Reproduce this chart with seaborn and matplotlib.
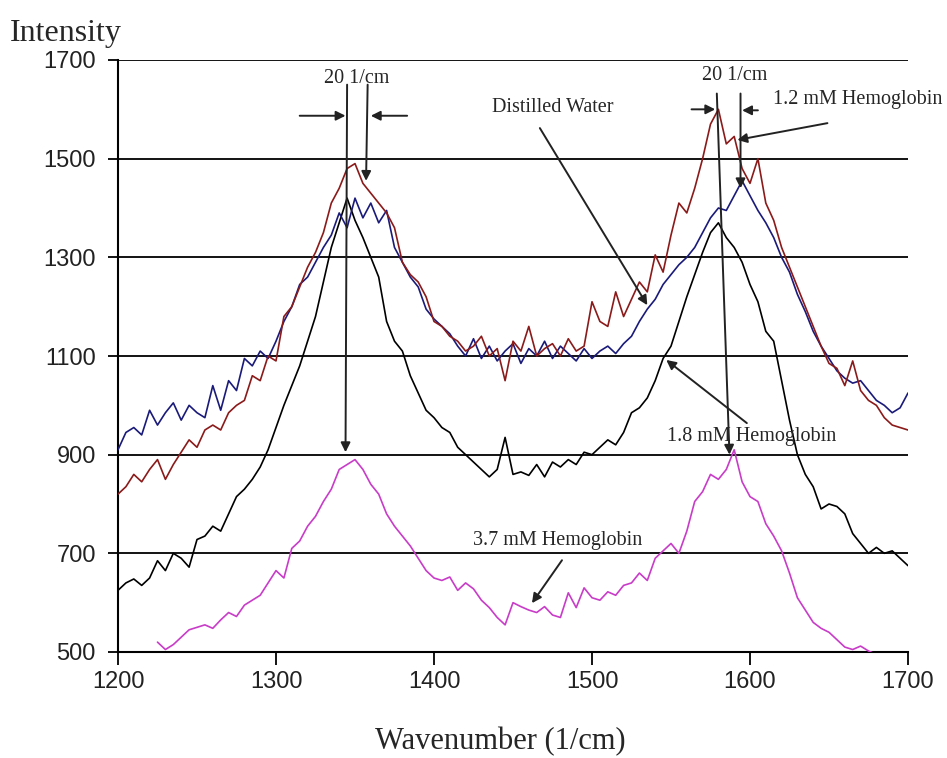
import numpy as np
import pandas as pd
import matplotlib
matplotlib.use("Agg")
import matplotlib.pyplot as plt
import seaborn as sns

# ---------------- data ----------------
wavenumber = list(range(1200, 1701, 5))

distilled_water = [
    910, 945, 955, 940, 990, 960, 985, 1005, 970, 1000,
    985, 975, 1040, 990, 1050, 1030, 1095, 1080, 1110, 1095,
    1130, 1170, 1200, 1245, 1260, 1290, 1320, 1345, 1390, 1360,
    1420, 1380, 1410, 1370, 1395, 1320, 1290, 1260, 1240, 1195,
    1175, 1160, 1145, 1120, 1100, 1135, 1095, 1120, 1090, 1110,
    1125, 1085, 1115, 1100, 1130, 1095, 1120, 1105, 1090, 1115,
    1095, 1110, 1120, 1105, 1125, 1140, 1170, 1195, 1215, 1245,
    1265, 1285, 1300, 1320, 1350, 1380, 1400, 1395, 1425, 1455,
    1425, 1395, 1370, 1340, 1300, 1270, 1225, 1190, 1150, 1120,
    1095, 1070, 1055, 1045, 1050, 1030, 1010, 1000, 985, 995,
    1025]

hb_1_2 = [
    820, 835, 860, 845, 870, 890, 850, 880, 905, 930,
    915, 950, 960, 950, 985, 1000, 1010, 1060, 1050, 1100,
    1090, 1180, 1200, 1240, 1280, 1310, 1350, 1410, 1440, 1480,
    1490, 1450, 1430, 1410, 1390, 1360, 1290, 1265, 1250, 1220,
    1170, 1160, 1140, 1130, 1110, 1120, 1140, 1100, 1115, 1050,
    1130, 1110, 1160, 1100, 1115, 1125, 1100, 1135, 1110, 1120,
    1210, 1170, 1160, 1230, 1180, 1215, 1250, 1230, 1305, 1270,
    1345, 1410, 1390, 1440, 1500, 1570, 1600, 1530, 1545, 1480,
    1450, 1500, 1410, 1375, 1320, 1280, 1240, 1200, 1160, 1120,
    1085, 1075, 1040, 1090, 1030, 1010, 1000, 975, 960, 955,
    950]

hb_1_8 = [
    625, 640, 648, 635, 650, 685, 665, 700, 690, 672,
    728, 735, 755, 745, 780, 815, 830, 850, 875, 910,
    955, 1000, 1040, 1080, 1130, 1180, 1250, 1320, 1370, 1420,
    1375, 1340, 1300, 1260, 1170, 1130, 1110, 1060, 1025, 990,
    975, 955, 945, 915, 900, 885, 870, 855, 870, 935,
    860, 865, 858, 880, 855, 885, 875, 890, 880, 905,
    900, 915, 930, 920, 945, 985, 995, 1015, 1050, 1095,
    1120, 1170, 1220, 1265, 1310, 1350, 1370, 1340, 1320, 1290,
    1245, 1210, 1150, 1130, 1050, 970, 900, 860, 835, 790,
    800, 795, 780, 740, 720, 700, 712, 700, 705, 690,
    675]

wavenumber_3_7 = list(range(1225, 1681, 5))
hb_3_7 = [
    520, 505, 515, 530, 545, 550, 555, 548, 565, 580,
    572, 595, 605, 615, 640, 665, 650, 710, 725, 755,
    775, 805, 830, 870, 880, 890, 870, 840, 820, 780,
    755, 735, 715, 690, 665, 650, 645, 652, 625, 640,
    628, 605, 590, 570, 555, 600, 592, 585, 580, 592,
    575, 570, 620, 590, 630, 610, 605, 622, 615, 635,
    640, 660, 645, 690, 705, 720, 700, 745, 805, 825,
    860, 850, 870, 910, 845, 815, 805, 760, 735, 705,
    660, 610, 585, 560, 548, 540, 525, 510, 505, 512,
    502, 495]

series_names = ["3.7 mM Hemoglobin", "1.8 mM Hemoglobin",
                "Distilled Water", "1.2 mM Hemoglobin"]
series_colors = ["#c83cc8", "#000000", "#1a1a7a", "#8b1a1a"]

y_ticks = [500, 700, 900, 1100, 1300, 1500, 1700]
x_ticks = [1200, 1300, 1400, 1500, 1600, 1700]

# ---------------- build long table ----------------
frames = [
    pd.DataFrame({"x": wavenumber_3_7, "y": hb_3_7, "s": series_names[0]}),
    pd.DataFrame({"x": wavenumber, "y": hb_1_8, "s": series_names[1]}),
    pd.DataFrame({"x": wavenumber, "y": distilled_water, "s": series_names[2]}),
    pd.DataFrame({"x": wavenumber, "y": hb_1_2, "s": series_names[3]}),
]
df = pd.concat(frames, ignore_index=True)

sns.set_style("white")
plt.rcParams["font.family"] = ["Liberation Sans", "DejaVu Sans"]

fig = plt.figure(figsize=(9.47, 7.58), dpi=100)
ax = fig.add_axes([118 / 947, 1 - 652 / 758, 790 / 947, 592 / 758])

sns.lineplot(data=df, x="x", y="y", hue="s", hue_order=series_names,
             palette=dict(zip(series_names, series_colors)),
             legend=False, ax=ax, linewidth=1.2,
             estimator=None, sort=True, zorder=3)

ax.set_xlim(1200, 1700)
ax.set_ylim(500, 1700)
ax.set_xticks(x_ticks)
ax.set_yticks(y_ticks)
ax.set_xticklabels([str(t) for t in x_ticks], fontsize=17)
ax.set_yticklabels([str(t) for t in y_ticks], fontsize=17)
ax.yaxis.grid(True, color="black", linewidth=1.3, zorder=1)
ax.xaxis.grid(False)
ax.set_axisbelow(True)
for side in ["top", "right"]:
    ax.spines[side].set_visible(False)
for side in ["left", "bottom"]:
    ax.spines[side].set_color("black")
    ax.spines[side].set_linewidth(1.5)
ax.tick_params(axis="x", bottom=True, direction="out", length=9, width=1.3,
               pad=5, colors="black")
ax.tick_params(axis="y", left=True, direction="out", length=7, width=1.3,
               pad=9, colors="black")
ax.tick_params(axis="both", labelcolor="#222222")

serif = ["Liberation Serif", "DejaVu Serif"]
ax.set_xlabel("Wavenumber (1/cm)", fontsize=22, family=serif)
ax.xaxis.set_label_coords((500 - 118) / 790, -(742 - 652) / 592)
ax.xaxis.label.set_va("center")
ax.set_ylabel("")
fig.text(10 / 947, 1 - 33 / 758, "Intensity", fontsize=23, family=serif,
         ha="left", va="center")

# ---------------- annotations ----------------
arrow_kw = dict(arrowstyle="-|>", color="#222222", lw=1.4,
                mutation_scale=14, shrinkA=0, shrinkB=0)

def arrow(x0, y0, x1, y1):
    ax.annotate("", xy=(x1, y1), xytext=(x0, y0), arrowprops=arrow_kw,
                zorder=5)

# left peak
ax.text(1351, 1662, "20 1/cm", fontsize=14.5, family=serif, ha="center",
        va="center", zorder=6)
arrow(1345, 1650, 1344, 905)
arrow(1358, 1650, 1357, 1455)
arrow(1315, 1587, 1344, 1587)
arrow(1383, 1587, 1360, 1587)

# right peak
ax.text(1590, 1668, "20 1/cm", fontsize=14.5, family=serif, ha="center",
        va="center", zorder=6)
arrow(1579, 1632, 1587, 900)
arrow(1594, 1632, 1594, 1440)
arrow(1563, 1600, 1578, 1600)
arrow(1605, 1598, 1595, 1598)

ax.text(1475, 1603, "Distilled Water", fontsize=14.5, family=serif,
        ha="center", va="center", zorder=6)
arrow(1467, 1562, 1535, 1203)

ax.text(1668, 1619, "1.2 mM Hemoglobin", fontsize=14.5, family=serif,
        ha="center", va="center", zorder=6)
arrow(1649, 1572, 1592, 1538)

ax.text(1601, 936, "1.8 mM Hemoglobin", fontsize=14.5, family=serif,
        ha="center", va="center", zorder=6)
arrow(1598, 964, 1547, 1092)

ax.text(1478, 727, "3.7 mM Hemoglobin", fontsize=14.5, family=serif,
        ha="center", va="center", zorder=6)
arrow(1481, 686, 1462, 599)

fig.savefig("out.png", dpi=100)
